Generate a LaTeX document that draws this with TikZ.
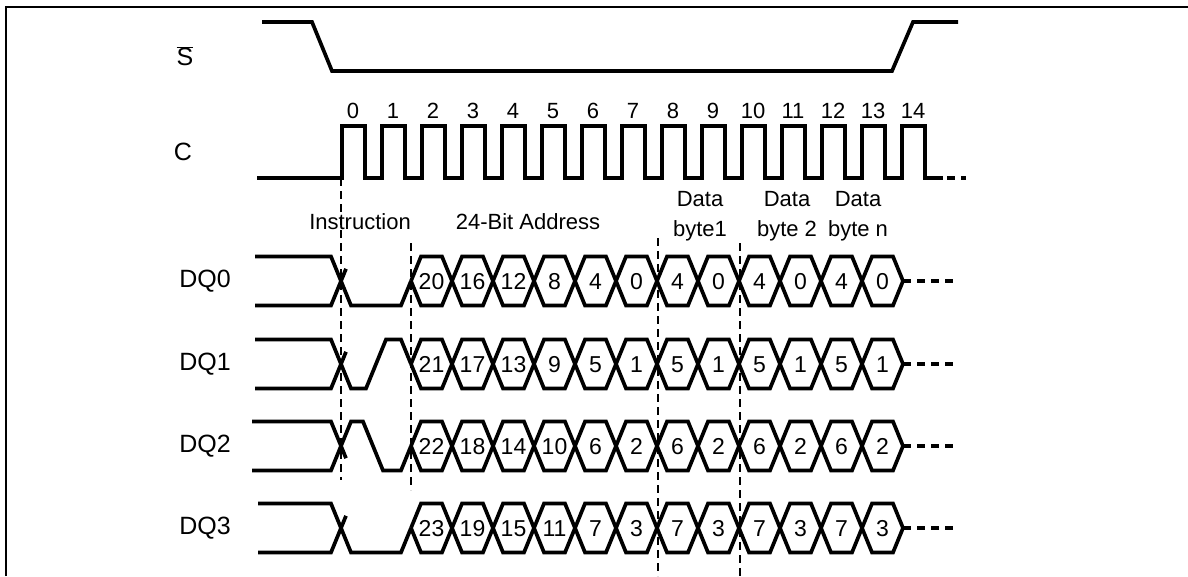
\documentclass[tikz,border=0pt]{standalone}
\usepackage{fontspec}
\setmainfont{Liberation Sans}
\begin{document}
\begin{tikzpicture}[x=1pt,y=-1pt,
  sig/.style={line width=3.7pt, line join=miter, line cap=butt},
  guide/.style={line width=1.5pt, dash pattern=on 8pt off 5pt},
  lbl/.style={font=\fontsize{25}{28}\selectfont, inner sep=0pt},
  num/.style={font=\fontsize{22}{24}\selectfont, inner sep=0pt, text height=16pt, text depth=0pt},
  hexnum/.style={font=\fontsize{23}{24}\selectfont, inner sep=0pt, text height=16.5pt, text depth=0pt},
  ann/.style={font=\fontsize{22}{30}\selectfont, inner sep=0pt, align=center},
]
\useasboundingbox (0,0) rectangle (1188,576);
% frame
\draw[line width=2.5pt] (6,576) -- (6,7) -- (1188,7);

% S bar
\node[lbl] (sbar) at (185,56) {$\overline{\hbox{S}}$};
\draw[sig] (262,22) -- (312,22) -- (332,71) -- (892,71) -- (913,22) -- (958,22);

% clock
\node[lbl] (clab) at (183,152) {C};
\draw[sig] (257,178) \foreach \k in {0,...,14} { -- ({342+40*\k},178) -- ({342+40*\k},126) -- ({365+40*\k},126) -- ({365+40*\k},178) } -- (943,178);
\draw[sig, dash pattern=on 8pt off 6pt] (947,178) -- (966,178);
\foreach \k in {0,...,14} \node[num] (c\k) at ({353+40*\k},110) {\k};

% guides
\draw[guide] (341,178) -- (341,480);
\draw[guide] (411,243) -- (411,490);
\draw[guide] (658,238) -- (658,576);
\draw[guide] (740,243) -- (740,576);

% annotations
\node[ann] (instr) at (360,222) {Instruction};
\node[ann] (addr) at (528,222) {24-Bit Address};
\node[ann] (db1) at (700,216) {Data\\byte1};
\node[ann] (db2) at (787,216) {Data\\byte 2};
\node[ann] (dbn) at (858,216) {Data\\byte n};

% DQ rows: labels, buses
\foreach \r/\c in {0/281,1/364,2/446,3/528} {
  \pgfmathsetmacro\t{\c-24.5}
  \pgfmathsetmacro\b{\c+24.5}
  \node[lbl] (dq\r) at (205,\c) {DQ\r};
  \draw[sig] (411,\c) \foreach \k in {0,...,11} { -- ({421+41*\k},\t) -- ({442+41*\k},\t) -- ({452+41*\k},\c) };
  \draw[sig] (411,\c) \foreach \k in {0,...,11} { -- ({421+41*\k},\b) -- ({442+41*\k},\b) -- ({452+41*\k},\c) };
  \draw[sig, dash pattern=on 8pt off 6pt] (903,\c) -- (958,\c);
  \foreach \k in {0,...,11} {
    \pgfmathtruncatemacro\n{\k<6 ? 4*(5-\k)+\r : 4*(1-mod(\k,2))+\r}
    \node[hexnum] (d\r n\k) at ({431.5+41*\k},\c) {\n};
  }
}

% instruction phase waveforms
% DQ0
\draw[sig] (255,256.5) -- (331,256.5) -- (351,305.5) -- (401,305.5) -- (411,281);
\draw[sig] (255,305.5) -- (331,305.5) -- (346,268.8);
% DQ1
\draw[sig] (255,339.5) -- (331,339.5) -- (351,388.5) -- (366,388.5) -- (386,339.5) -- (401,339.5) -- (411,364);
\draw[sig] (255,388.5) -- (331,388.5) -- (346,351.8);
% DQ2
\draw[sig] (252,470.5) -- (331,470.5) -- (351,421.5) -- (363,421.5) -- (383,470.5) -- (401,470.5) -- (411,446);
\draw[sig] (252,421.5) -- (331,421.5) -- (346,458.2);
% DQ3
\draw[sig] (258,503.5) -- (331,503.5) -- (351,552.5) -- (401,552.5) -- (411,528);
\draw[sig] (258,552.5) -- (331,552.5) -- (346,515.8);
\end{tikzpicture}
\end{document}
